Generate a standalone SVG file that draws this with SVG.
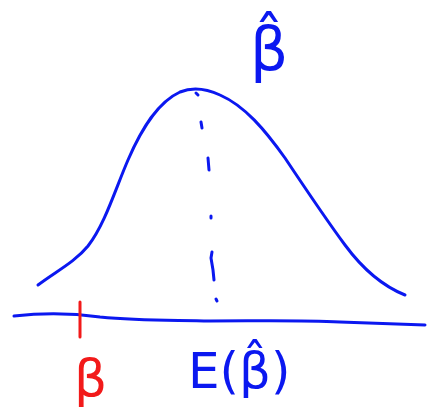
<svg xmlns="http://www.w3.org/2000/svg" width="427" height="413" viewBox="0 0 427 413">
<style>
.b{fill:none;stroke:#0b18f0;stroke-width:3;stroke-linecap:round;stroke-linejoin:round}
.r{fill:none;stroke:#f21a1a;stroke-width:3;stroke-linecap:round}
.tb{fill:#0b18f0;font-family:"DejaVu Sans",sans-serif}
.tr{fill:#f21a1a;font-family:"DejaVu Sans",sans-serif}
</style>
<rect width="427" height="413" fill="#ffffff"/>
<g id="curve">
<path class="b" d="M38,285 C55,272 75,262 88,246 C105,224 115,190 128,160 C142,128 158,102 180,92 C192,87 205,88 220,95 C245,106 265,130 285,158 C305,188 325,218 345,245 C362,268 380,285 405,295"/>
</g>
<g id="axis">
<path class="b" d="M14,316 C40,313 65,312 100,317 C140,321 170,320 210,321 C260,321 300,320 340,322 C370,323 400,324 425,325"/>
</g>
<g id="mean-line">
<path class="b" d="M196,93 L198,95 M201,122 L202,128 M208,158 L209,170 M211,216 L211,218 M212,252 L211,258 L213,270 L214,280 M216,299 L217,301"/>
</g>
<g id="beta-true">
<path class="r" d="M80,302 L80,337"/>
<text class="tr" x="74" y="396" font-size="52">β</text>
</g>
<g id="beta-hat">
<text class="tb" x="250" y="70" font-size="60">β̂</text>
</g>
<g id="expectation">
<text class="tb" x="188" y="388" font-size="50">E(β̂)</text>
</g>
</svg>
